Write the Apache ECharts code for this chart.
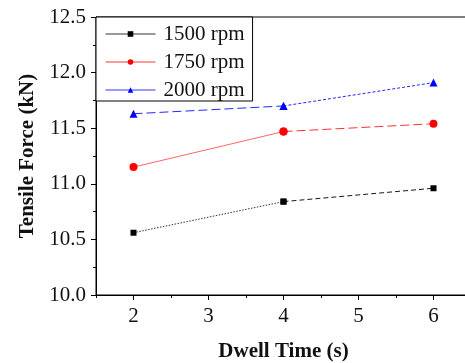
<!DOCTYPE html>
<html>
<head>
<meta charset="utf-8">
<script src="https://cdn.jsdelivr.net/npm/echarts@6/dist/echarts.min.js"></script>
<style>
  html, body { margin: 0; padding: 0; background: #fff; }
  #chart { width: 465px; height: 363px; }
</style>
</head>
<body>
<div id="chart"></div>
<script>
// dwell times (s) and tensile force (kN)
const dwellTimes = [2, 4, 6];
const seriesNames = ['1500 rpm', '1750 rpm', '2000 rpm'];
const force1500 = [10.56, 10.84, 10.96];
const force1750 = [11.15, 11.47, 11.54];
const force2000 = [11.63, 11.70, 11.91];
const xMajorTicks = [2, 3, 4, 5, 6];
const xMinorTicks = [1.5, 2.5, 3.5, 4.5, 5.5, 6.5];

const chart = echarts.init(document.getElementById('chart'));

const serif = '"Liberation Serif", "DejaVu Serif", serif';

// each curve is drawn in two pieces because the original uses a different dash per segment
const looks = [
  { values: force1500, color: '#000000', symbol: 'rect', size: 6, dash: [[1.5, 1.5], [5, 3]], fade: [0.8, 0.9] },
  { values: force1750, color: '#ff0000', symbol: 'circle', size: 8, dash: ['solid', [9, 4]], fade: [0.6, 0.8] },
  { values: force2000, color: '#0000ff', symbol: 'triangle', size: 8, dash: [[9, 4], [3, 2]], fade: [0.85, 0.85] }
];

const series = [];
looks.forEach((look, i) => {
  for (let s = 0; s < 2; s++) {
    series.push({
      name: seriesNames[i],
      type: 'line',
      symbol: look.symbol,
      symbolSize: look.size,
      itemStyle: { color: look.color },
      lineStyle: { color: look.color, width: 1, type: look.dash[s], opacity: look.fade[s] },
      data: [
        [dwellTimes[s], look.values[s]],
        [dwellTimes[s + 1], look.values[s + 1]]
      ],
      animation: false
    });
  }
});

const option = {
  backgroundColor: '#fff',
  grid: {
    left: 96,
    top: 17,
    width: 375,
    bottom: 68,
    outerBoundsMode: 'none',
    containLabel: false,
    show: true,
    borderColor: '#000',
    borderWidth: 1
  },
  legend: {
    orient: 'vertical',
    left: 96,
    top: 17,
    padding: [6, 8, 0, 9],
    itemWidth: 50,
    itemHeight: 7,
    itemGap: 6,
    backgroundColor: '#fff',
    borderColor: '#000',
    borderWidth: 1,
    textStyle: { fontFamily: serif, fontSize: 21, color: '#111', lineHeight: 22, padding: [0, 0, 0, 3] },
    data: seriesNames.map(n => ({ name: n, lineStyle: { type: 'solid', width: 1, opacity: 0.8 } }))
  },
  xAxis: [
    {
      type: 'value',
      min: 1.5,
      max: 6.5,
      name: 'Dwell Time (s)',
      nameLocation: 'middle',
      nameGap: 46,
      nameTextStyle: { fontFamily: serif, fontSize: 21, fontWeight: 'bold', color: '#111' },
      splitLine: { show: false },
      axisLine: { lineStyle: { color: '#000', width: 1 } },
      axisTick: { customValues: xMajorTicks, length: 5, lineStyle: { color: '#000' } },
      axisLabel: {
        customValues: xMajorTicks,
        margin: 11,
        fontFamily: serif, fontSize: 21, color: '#111'
      }
    },
    {
      // second axis only carries the short half-step ticks
      type: 'value',
      min: 1.5,
      max: 6.5,
      position: 'bottom',
      splitLine: { show: false },
      axisLine: { show: false },
      axisTick: { customValues: xMinorTicks, length: 3, lineStyle: { color: '#000' } },
      axisLabel: { show: false }
    }
  ],
  yAxis: {
    type: 'value',
    min: 10,
    max: 12.5,
    interval: 0.5,
    name: 'Tensile Force (kN)',
    nameLocation: 'middle',
    nameGap: 58,
    nameTextStyle: { fontFamily: serif, fontSize: 21, fontWeight: 'bold', color: '#111' },
    splitLine: { show: false },
    axisLine: { show: true, lineStyle: { color: '#000', width: 1 } },
    axisTick: { show: true, length: 5, lineStyle: { color: '#000' } },
    minorTick: { show: true, splitNumber: 2, length: 3, lineStyle: { color: '#000' } },
    axisLabel: {
      margin: 10,
      fontFamily: serif, fontSize: 21, color: '#111',
      formatter: v => v.toFixed(1)
    }
  },
  series: series
};

chart.setOption(option);
</script>
</body>
</html>
